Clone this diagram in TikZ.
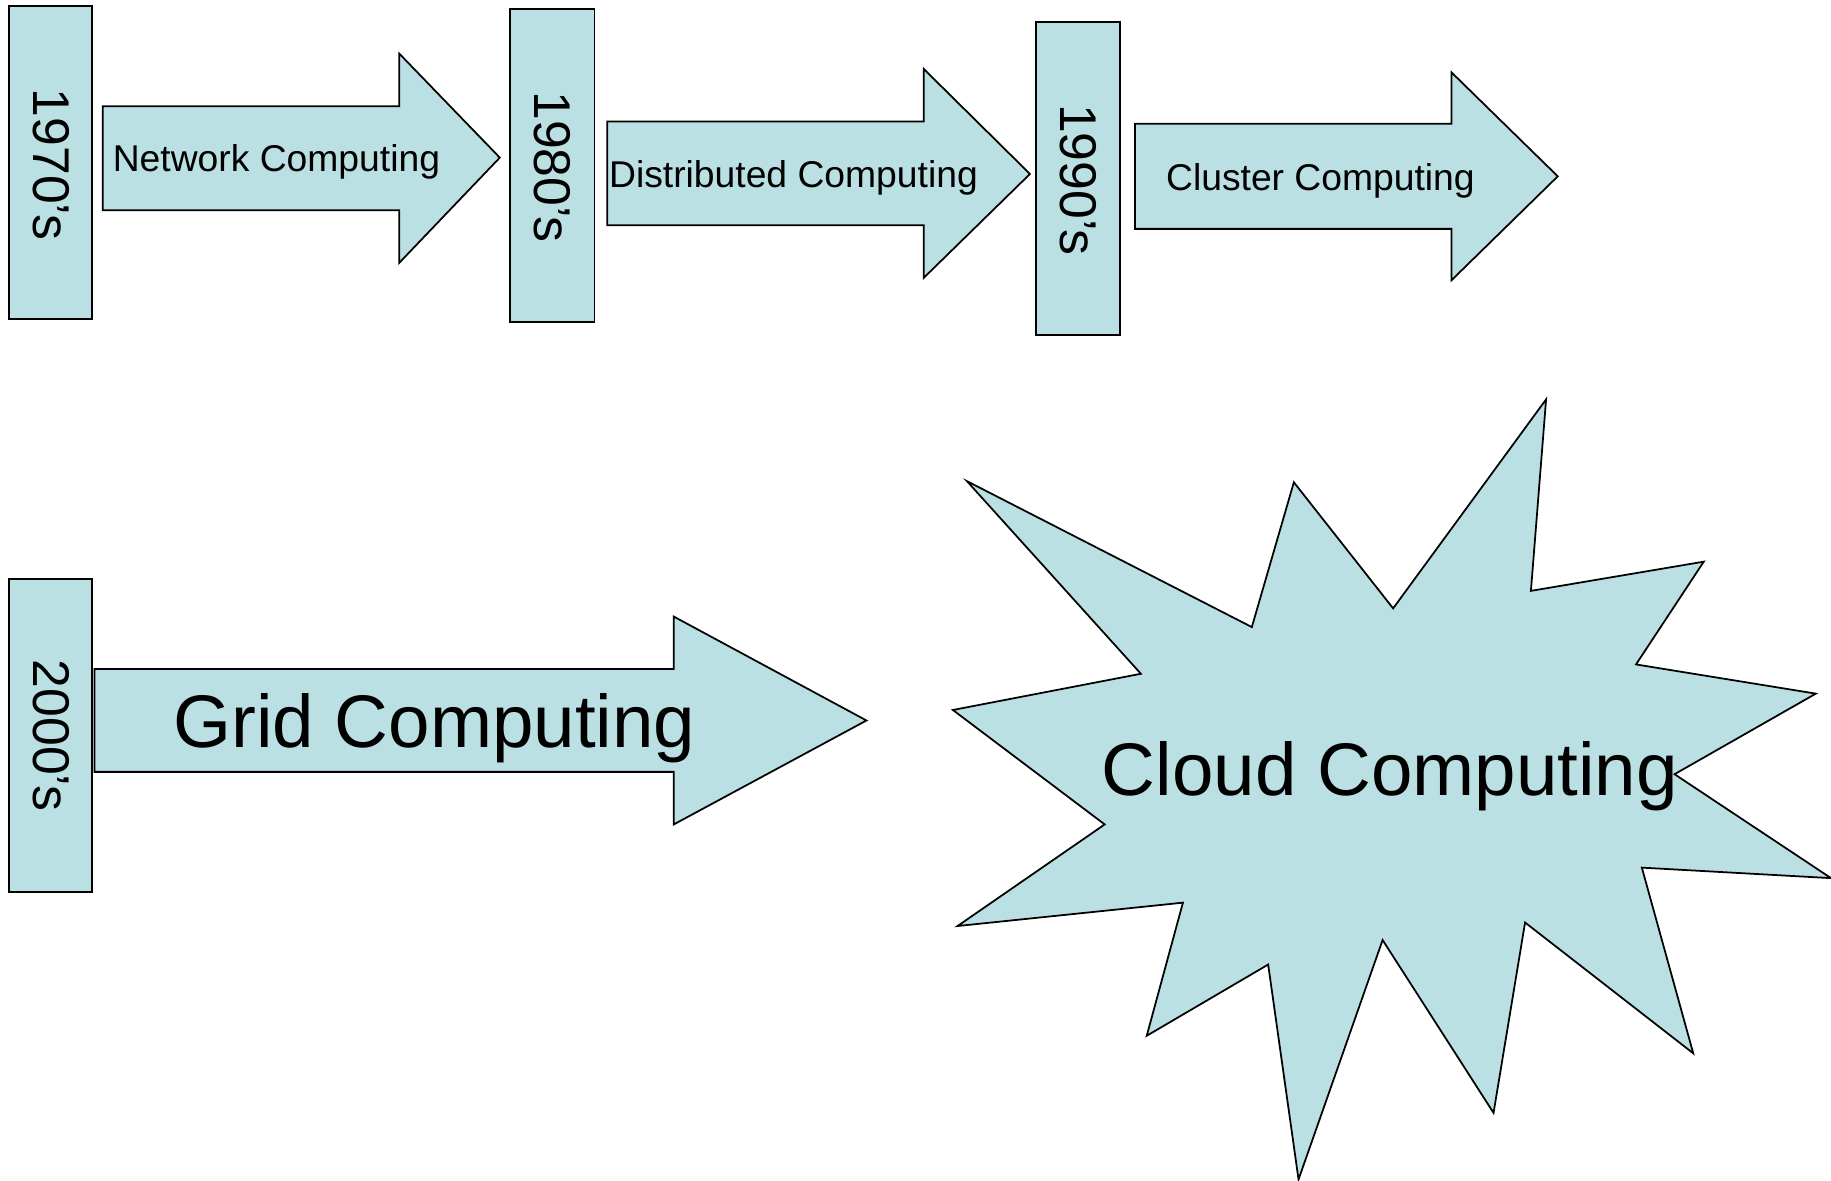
\documentclass[tikz,border=0pt]{standalone}
\usepackage{fontspec}
\setmainfont{Liberation Sans}
\definecolor{shapefill}{HTML}{BBE0E3}
\tikzset{
  shapebox/.style={draw=black, fill=shapefill, line width=0.5pt, line join=miter},
  yeartext/.style={rotate=-90, inner sep=0pt, font=\fontsize{14.7}{16}\selectfont},
  smalltext/.style={anchor=west, inner sep=0pt, font=\fontsize{10.6}{12}\selectfont},
  bigtext/.style={anchor=west, inner sep=0pt, font=\fontsize{21.2}{24}\selectfont}
}
\begin{document}
\begin{tikzpicture}[x=0.011677cm, y=-0.011677cm]
\useasboundingbox (0,0) rectangle (1568,1011);
% year boxes
\draw[shapebox] (8,5) rectangle (79,273);
\node[yeartext] (y70) at (43.5,141) {1970’s};
\draw[shapebox] (437,8) rectangle (509,276);
\node[yeartext] (y80) at (473,143) {1980’s};
\draw[shapebox] (887,19) rectangle (959,287);
\node[yeartext] (y90) at (923,154) {1990’s};
\draw[shapebox] (8,496) rectangle (79,764);
\node[yeartext] (y00) at (43.5,630) {2000’s};
% arrows
\draw[shapebox] (88,91) -- (342,91) -- (342,46) -- (428,135) -- (342,225) -- (342,180) -- (88,180) -- cycle;
\node[smalltext] (net) at (96,139) {Network Computing};
\draw[shapebox] (520,104) -- (791,104) -- (791,59) -- (882,149) -- (791,238) -- (791,193) -- (520,193) -- cycle;
\node[smalltext] (dist) at (521,152) {Distributed Computing};
\draw[shapebox] (972,106) -- (1243,106) -- (1243,62) -- (1334,151) -- (1243,240) -- (1243,196) -- (972,196) -- cycle;
\node[smalltext] (clus) at (998,155) {Cluster Computing};
\draw[shapebox] (81,573) -- (577,573) -- (577,528) -- (742,617) -- (577,706) -- (577,661) -- (81,661) -- cycle;
\node[bigtext] (grid) at (148,624) {Grid Computing};
% star
\draw[shapebox] (828,412) -- (1072,537) -- (1108,413) -- (1193,521) -- (1324,342) -- (1311,506)
  -- (1459,481) -- (1401,569) -- (1555,594) -- (1434,663) -- (1568,752) -- (1406,743)
  -- (1450,902) -- (1306,790) -- (1279,953) -- (1184,805) -- (1112,1010) -- (1086,826)
  -- (982,887) -- (1013,773) -- (820,793) -- (946,706) -- (816,608) -- (977,577) -- cycle;
\node[bigtext] (cloud) at (943,665) {Cloud Computing};
\end{tikzpicture}
\end{document}
